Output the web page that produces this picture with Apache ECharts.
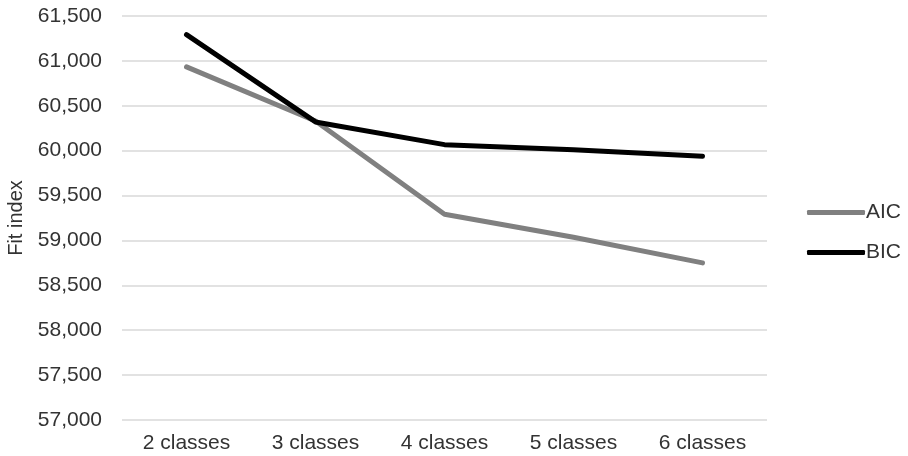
<!DOCTYPE html>
<html>
<head>
<meta charset="utf-8">
<script src="https://cdn.jsdelivr.net/npm/echarts@6/dist/echarts.min.js"></script>
<style>
  html, body { margin: 0; padding: 0; background: #fff; }
  #chart { width: 908px; height: 456px; }
</style>
</head>
<body>
<div id="chart"></div>
<script>
// Model sizes compared
const categories = ['2 classes', '3 classes', '4 classes', '5 classes', '6 classes'];
// Information criteria per model
const aicValues = [60933, 60330, 59292, 59035, 58750];
const bicValues = [61292, 60320, 60067, 60010, 59937];
// Value axis range
const yMin = 57000;
const yMax = 61500;
const yStep = 500;

const textColor = '#333333';
const fontFamily = 'Liberation Sans, Arial, sans-serif';

const chart = echarts.init(document.getElementById('chart'), null, { renderer: 'canvas' });

chart.setOption({
  animation: false,
  backgroundColor: '#ffffff',
  grid: {
    left: 122, right: 141, top: 16, bottom: 36,
    containLabel: false,
    outerBoundsMode: 'none'
  },
  legend: {
    orient: 'vertical',
    left: 802,
    top: 197,
    itemWidth: 58,
    itemHeight: 5,
    itemGap: 19,
    icon: 'roundRect',
    textStyle: { color: textColor, fontSize: 21, fontFamily: fontFamily, padding: [0, 0, 0, -4] },
    data: ['AIC', 'BIC']
  },
  xAxis: {
    type: 'category',
    data: categories,
    boundaryGap: true,
    axisLine: { show: false },
    axisTick: { show: false },
    axisLabel: { color: textColor, fontSize: 21, fontFamily: fontFamily, margin: 13 }
  },
  yAxis: {
    type: 'value',
    min: yMin,
    max: yMax,
    interval: yStep,
    name: 'Fit index',
    nameLocation: 'middle',
    nameRotate: 90,
    nameGap: 95,
    nameTextStyle: { color: textColor, fontSize: 20, fontFamily: fontFamily },
    axisLine: { show: false },
    axisTick: { show: false },
    axisLabel: {
      color: textColor,
      fontSize: 21,
      fontFamily: fontFamily,
      margin: 20,
      formatter: v => v.toLocaleString('en-US')
    },
    splitLine: { lineStyle: { color: '#d9d9d9', width: 1.5 } }
  },
  series: [
    {
      name: 'AIC',
      type: 'line',
      data: aicValues,
      showSymbol: false,
      symbol: 'none',
      lineStyle: { color: '#808080', width: 5, cap: 'round', join: 'round' },
      itemStyle: { color: '#808080' }
    },
    {
      name: 'BIC',
      type: 'line',
      data: bicValues,
      showSymbol: false,
      symbol: 'none',
      lineStyle: { color: '#000000', width: 5, cap: 'round', join: 'round' },
      itemStyle: { color: '#000000' }
    }
  ]
});
</script>
</body>
</html>
